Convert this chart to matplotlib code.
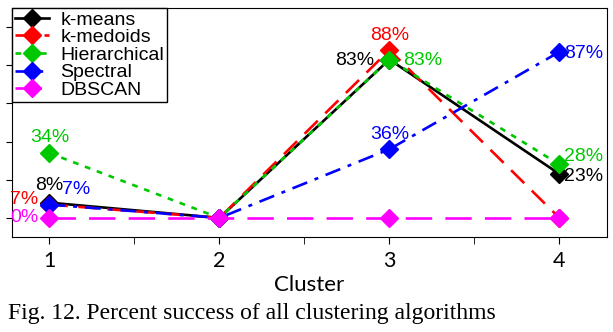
import matplotlib
matplotlib.use("Agg")

import matplotlib.pyplot as plt

clusters = [1, 2, 3, 4]
kmeans = [8, 0, 83, 23]
kmedoids = [7, 0, 88, 0]
hierarchical = [34, 0, 83, 28]
spectral = [7, 0, 36, 87]
dbscan = [0, 0, 0, 0]

series = [
    ("k-means", kmeans, "black", "-"),
    ("k-medoids", kmedoids, "#ff0000", (0, (7, 4))),
    ("Hierarchical", hierarchical, "#00c800", (0, (2.2, 2.6))),
    ("Spectral", spectral, "#0000ff", (0, (6, 3, 1.5, 3))),
    ("DBSCAN", dbscan, "#ff00ff", (0, (10, 5))),
]

# value labels: (series index, cluster index, text, dx, dy, ha) offsets in pixels
labels = [
    (0, 0, "8%", 0, 17, "center"),
    (1, 0, "7%", -11, 5, "right"),
    (2, 0, "34%", 0, 16, "center"),
    (3, 0, "7%", 13, 15, "left"),
    (4, 0, "0%", -11, 0, "right"),
    (1, 2, "88%", 0, 14, "center"),
    (0, 2, "83%", -15, -1, "right"),
    (2, 2, "83%", 14, -1, "left"),
    (3, 2, "36%", 0, 15, "center"),
    (3, 3, "87%", 5, -2, "left"),
    (2, 3, "28%", 5, 8, "left"),
    (0, 3, "23%", 5, -2, "left"),
]

sans = ["Liberation Sans", "DejaVu Sans"]

fig = plt.figure(figsize=(6.13, 3.32), dpi=100)
ax = fig.add_axes([12 / 613, 1 - 237 / 332, 595 / 613, 229 / 332])

for name, vals, color, ls in series:
    ax.plot(clusters, vals, color=color, linestyle=ls, linewidth=1.9,
            marker="D", markersize=9.5, label=name)

for si, ci, txt, dx, dy, ha in labels:
    color = series[si][2]
    ax.annotate(txt, (clusters[ci], series[si][1][ci]), xytext=(dx, dy),
                textcoords="offset pixels", ha=ha, va="center",
                fontsize=14, color=color, family=sans)

ax.set_xlim(0.78, 4.28)
ax.set_ylim(-10, 110)
ax.set_xticks(clusters)
ax.set_xticks([1.5, 2.5, 3.5], minor=True)
ax.set_yticks([0, 20, 40, 60, 80, 100])
ax.set_yticklabels([])
ax.tick_params(axis="x", which="both", length=5, labelsize=15.5, pad=5)
ax.tick_params(axis="y", length=4)
for lab in ax.get_xticklabels():
    lab.set_family("Lato")
ax.set_xlabel("Cluster", fontsize=16, family="Lato", labelpad=3)

leg = ax.legend(loc="upper left", borderaxespad=0,
                prop={"family": sans, "size": 14}, handlelength=1.75,
                labelspacing=0.0, borderpad=0.15, handletextpad=0.6,
                fancybox=False, edgecolor="black", framealpha=1)
leg.get_frame().set_linewidth(1.0)

fig.text(8 / 613, 1 - 313 / 332, "Fig. 12. Percent success of all clustering algorithms",
         family="Liberation Serif", fontsize=17, ha="left", va="center")

fig.savefig("out.png", dpi=100)
